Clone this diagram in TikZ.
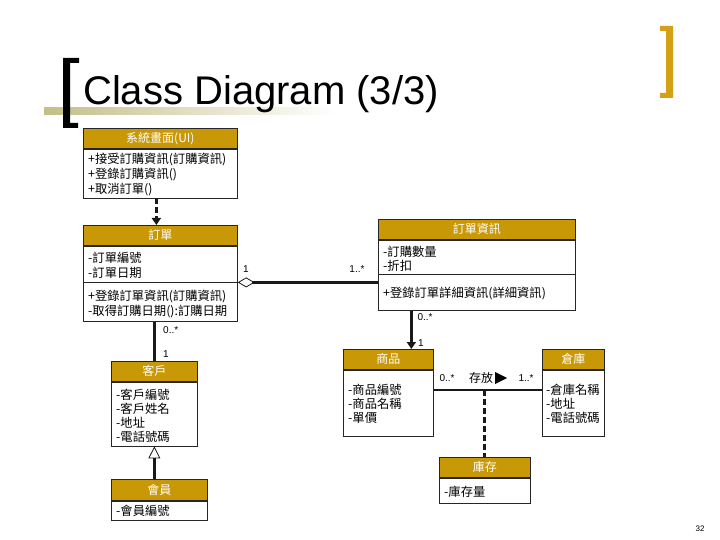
\documentclass[tikz,border=0pt]{standalone}
\usepackage{fontspec}
\setmainfont{Liberation Sans}
\newfontfamily\cjk{Noto Sans CJK TC}
\usetikzlibrary{arrows.meta,calc}
\definecolor{gold}{RGB}{201,152,6}
\definecolor{brk}{RGB}{212,160,20}
\definecolor{olivebar}{RGB}{196,190,135}
\begin{document}
\begin{tikzpicture}[x=1pt,y=-1pt,
  hdr/.style={draw=black!85, line width=0.7pt, fill=gold, text=white,
    font=\cjk\fontsize{12}{14}\selectfont, anchor=north west, inner sep=0pt},
  bodybox/.style={draw=black!85, line width=0.7pt, fill=white, anchor=north west, inner sep=0pt},
  txt/.style={anchor=west, inner sep=0pt, yshift=-1.5pt, font=\cjk\fontsize{12.3}{14}\selectfont},
  lbl/.style={inner sep=0pt, font=\fontsize{10}{11}\selectfont},
  conn/.style={line width=3pt, draw=black!90},
  dashconn/.style={conn, dash pattern=on 6pt off 3pt},
  filledtip/.style={-{Triangle[length=7pt,width=9pt]}}
]
\useasboundingbox (0,0) rectangle (720,540);
% title decoration
\shade[left color=olivebar,right color=white] (44,108) rectangle (335,115);
\fill[black] (63,58) -- (79,58) -- (79,63) -- (70,63) -- (70,123) -- (78,123) -- (78,128) -- (63,128) -- cycle;
\fill[brk] (660,26) -- (673,26) -- (673,98) -- (660,98) -- (660,93) -- (666,93) -- (666,31) -- (660,31) -- cycle;
\node[anchor=base west, inner sep=0pt, font=\fontsize{40}{44}\selectfont] (title) at (83,105) {Class Diagram (3/3)};

% UI
\node[hdr, minimum width=154, minimum height=20] (uih) at (83,128) {系統畫面(UI)};
\node[bodybox, minimum width=154, minimum height=49] (uib) at (uih.south west) {};
\node[txt] (ui1) at (88,158) {+接受訂購資訊(訂購資訊)};
\node[txt] (ui2) at (88,173) {+登錄訂購資訊()};
\node[txt] (ui3) at (88,188) {+取消訂單()};

% order
\node[hdr, minimum width=154, minimum height=20] (ordh) at (83,225) {訂單};
\node[bodybox, minimum width=154, minimum height=36] (ordb1) at (ordh.south west) {};
\node[bodybox, minimum width=154, minimum height=39] (ordb2) at (ordb1.south west) {};
\node[txt] (or1) at (88,256) {-訂單編號};
\node[txt] (or2) at (88,271) {-訂單日期};
\node[txt] (or3) at (88,295) {+登錄訂單資訊(訂購資訊)};
\node[txt] (or4) at (88,310) {-取得訂購日期():訂購日期};

% order detail
\node[hdr, minimum width=197, minimum height=20] (deth) at (378,219) {訂單資訊};
\node[bodybox, minimum width=197, minimum height=34] (detb1) at (deth.south west) {};
\node[bodybox, minimum width=197, minimum height=36] (detb2) at (detb1.south west) {};
\node[txt] (de1) at (383,250) {-訂購數量};
\node[txt] (de2) at (383,264) {-折扣};
\node[txt] (de3) at (383,292) {+登錄訂單詳細資訊(詳細資訊)};

% customer
\node[hdr, minimum width=86, minimum height=20] (cush) at (111,361) {客戶};
\node[bodybox, minimum width=86, minimum height=64] (cusb) at (cush.south west) {};
\node[txt] (cu1) at (116,393) {-客戶編號};
\node[txt] (cu2) at (116,407) {-客戶姓名};
\node[txt] (cu3) at (116,421) {-地址};
\node[txt] (cu4) at (116,435) {-電話號碼};

% member
\node[hdr, minimum width=96, minimum height=21] (memh) at (111,479) {會員};
\node[bodybox, minimum width=96, minimum height=19] (memb) at (memh.south west) {};
\node[txt] (me1) at (116,509) {-會員編號};

% product
\node[hdr, minimum width=90, minimum height=20] (prodh) at (343,349) {商品};
\node[bodybox, minimum width=90, minimum height=66] (prodb) at (prodh.south west) {};
\node[txt] (pr1) at (348,388) {-商品編號};
\node[txt] (pr2) at (348,402) {-商品名稱};
\node[txt] (pr3) at (348,416) {-單價};

% warehouse
\node[hdr, minimum width=62, minimum height=20] (whh) at (542,349) {倉庫};
\node[bodybox, minimum width=62, minimum height=66] (whb) at (whh.south west) {};
\node[txt] (wh1) at (546,388) {-倉庫名稱};
\node[txt] (wh2) at (546,402) {-地址};
\node[txt] (wh3) at (546,416) {-電話號碼};

% stock
\node[hdr, minimum width=91, minimum height=20] (stkh) at (439,457) {庫存};
\node[bodybox, minimum width=91, minimum height=25] (stkb) at (stkh.south west) {};
\node[txt] (st1) at (444,490) {-庫存量};

% connectors
\draw[dashconn, filledtip] ([xshift=-4pt]uib.south) -- ([xshift=-4pt]ordh.north);
\draw[conn, {Diamond[open,length=17pt,width=10pt,line width=0.8pt]}-] (ordb1.south east) -- (ordb1.south east -| detb2.west);
\draw[conn] (ordb2.south -| cush.north) -- (cush.north);
\coordinate (pa) at ([xshift=23pt]prodh.north);
\draw[conn, filledtip] (detb2.south -| pa) -- (pa);
\coordinate (pw) at ([yshift=13pt]prodb.east);
\draw[line width=2pt, draw=black!90] (pw) -- (pw -| whb.west);
\draw[dashconn] (pw -| stkh.north) -- (stkh.north);
\draw[conn, -{Triangle[open,length=12pt,width=12pt,line width=0.8pt]}] (memh.north -| cusb.south) -- (cusb.south);

% multiplicities / labels
\node[lbl] (m1) at (246,269) {1};
\node[lbl] (m2) at (357,269) {1..*};
\node[lbl, anchor=west] (m3) at (163,330) {0..*};
\node[lbl] (m4) at (166,354) {1};
\node[lbl] (m5) at (425,317) {0..*};
\node[lbl] (m6) at (421,343) {1};
\node[lbl] (m7) at (447,378) {0..*};
\node[inner sep=0pt, font=\cjk\fontsize{12}{13}\selectfont] (m8) at (481,378) {存放};
\fill[black] (495,372) -- (507,378) -- (495,384) -- cycle;
\node[lbl] (m10) at (526,378) {1..*};
\node[inner sep=0pt, font=\fontsize{8}{9}\selectfont] (page) at (700,529) {32};
\end{tikzpicture}
\end{document}
